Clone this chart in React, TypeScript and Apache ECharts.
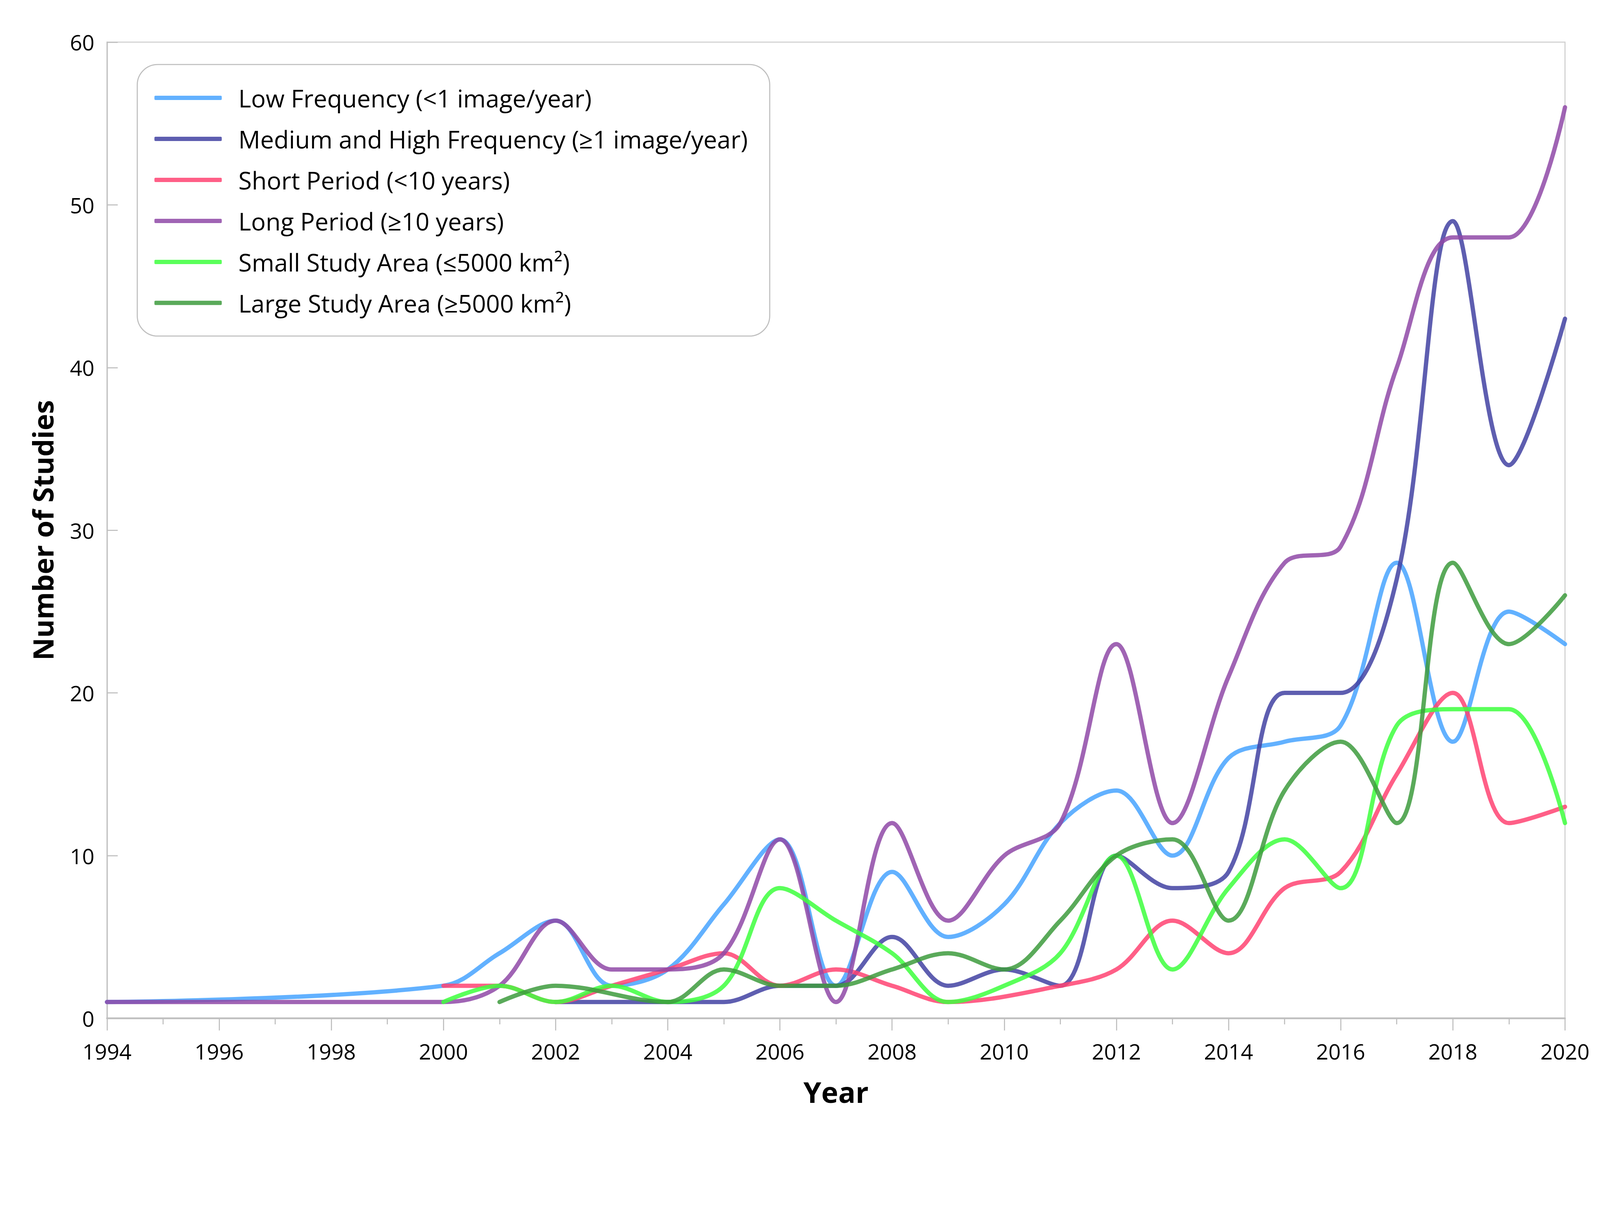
import React, { useEffect, useRef } from "react";
import * as echarts from "echarts";

const years = [
  1994, 1995, 1996, 1997, 1998, 1999, 2000, 2001, 2002, 2003, 2004, 2005, 2006, 2007,
  2008, 2009, 2010, 2011, 2012, 2013, 2014, 2015, 2016, 2017, 2018, 2019, 2020,
];

const lowFrequency = [
  1, null, null, null, null, null, 2, 4, 6, 2, 3, 7, 11, 2, 9, 5, 7, 12, 14, 10, 16, 17, 18, 28, 17, 25, 23,
];
const mediumHighFrequency = [
  null, null, null, null, null, null, null, null, 1, 1, 1, 1, 2, 2, 5, 2, 3, 2, 10, 8, 9, 20, 20, 27, 49, 34, 43,
];
const shortPeriod = [
  null, null, null, null, null, null, 2, 2, 1, 2, 3, 4, 2, 3, 2, 1, null, 2, 3, 6, 4, 8, 9, 15, 20, 12, 13,
];
const longPeriod = [
  1, null, null, null, null, null, 1, 2, 6, 3, 3, 4, 11, 1, 12, 6, 10, 12, 23, 12, 21, 28, 29, 40, 48, 48, 56,
];
const smallStudyArea = [
  null, null, null, null, null, null, 1, 2, 1, 2, 1, 2, 8, 6, 4, 1, 2, 4, 10, 3, 8, 11, 8, 18, 19, 19, 12,
];
const largeStudyArea = [
  null, null, null, null, null, null, null, 1, 2, null, 1, 3, 2, 2, 3, 4, 3, 6, 10, 11, 6, 14, 17, 12, 28, 23, 26,
];

const seriesNames = [
  "Low Frequency (<1 image/year)",
  "Medium and High Frequency (≥1 image/year)",
  "Short Period (<10 years)",
  "Long Period (≥10 years)",
  "Small Study Area (≤5000 km²)",
  "Large Study Area (≥5000 km²)",
];
const seriesValues = [
  lowFrequency,
  mediumHighFrequency,
  shortPeriod,
  longPeriod,
  smallStudyArea,
  largeStudyArea,
];
const seriesColors = ["#47A3FF", "#4242A2", "#FF4372", "#8F49A7", "#3DFF3D", "#3D9B3D"];

const yTicks = [0, 10, 20, 30, 40, 50, 60];

const FONT = "'Open Sans', 'DejaVu Sans', sans-serif";

function toPairs(vals: (number | null)[]) {
  const out: [number, number][] = [];
  vals.forEach((v, i) => {
    if (v !== null && v !== undefined) out.push([years[i], v]);
  });
  return out;
}

// Design is in reference pixels (4466 x 3133 page, 8px body margin).
const REF_W = 4450;
const REF_H = 3117;

export default function App() {
  const ref = useRef<HTMLDivElement>(null);
  const availW = Math.max(100, (typeof window !== "undefined" ? window.innerWidth : 4466) - 16);
  const availH = Math.max(100, (typeof window !== "undefined" ? window.innerHeight : 3133) - 16);
  const k = Math.min(availW / REF_W, availH / REF_H);
  const divW = Math.floor(REF_W * k);
  const divH = Math.floor(REF_H * k);

  useEffect(() => {
    if (!ref.current) return;
    const chart = echarts.init(ref.current, undefined, { renderer: "svg" });
    const s = (v: number) => v * k;

    const series = seriesNames.map((name, i) => ({
      name,
      type: "line",
      data: toPairs(seriesValues[i]),
      smooth: 0.35,
      symbol: "none",
      showSymbol: false,
      itemStyle: { color: seriesColors[i] },
      lineStyle: {
        color: seriesColors[i],
        width: s(12),
        opacity: 0.85,
        cap: "round",
        join: "round",
      },
      z: 3,
    }));

    chart.setOption({
      animation: false,
      backgroundColor: "#ffffff",
      textStyle: { fontFamily: FONT },
      grid: {
        left: s(290),
        right: s(89),
        top: s(109),
        bottom: s(282),
        show: true,
        borderColor: "#D0D0D0",
        borderWidth: s(3),
        backgroundColor: "transparent",
      },
      graphic: [
        {
          type: "rect",
          left: s(373),
          top: s(170),
          shape: { width: s(1766), height: s(758), r: s(57) },
          style: { fill: "#ffffff", stroke: "#BFBFBF", lineWidth: s(3) },
          z: 5,
        },
      ],
      legend: {
        orient: "vertical",
        left: s(417),
        top: s(219),
        z: 10,
        icon: "roundRect",
        itemWidth: s(188),
        itemHeight: s(12),
        itemGap: s(34.5),
        itemStyle: { opacity: 0.85 },
        textStyle: {
          fontFamily: FONT,
          fontSize: s(68),
          color: "#000000",
          lineHeight: s(80),
          padding: [0, 0, 0, s(41)],
        },
        data: seriesNames,
      },
      xAxis: {
        type: "value",
        min: 1994,
        max: 2020,
        interval: 2,
        name: "Year",
        nameLocation: "middle",
        nameGap: s(165),
        nameTextStyle: {
          fontFamily: FONT,
          fontSize: s(80),
          fontWeight: "bold",
          color: "#000000",
        },
        axisLine: { show: true, lineStyle: { color: "#BFBFBF", width: s(5) } },
        axisTick: { show: true, length: s(34), lineStyle: { color: "#BFBFBF", width: s(3) } },
        minorTick: {
          show: true,
          splitNumber: 2,
          length: s(17),
          lineStyle: { color: "#BFBFBF", width: s(3) },
        },
        splitLine: { show: false },
        axisLabel: {
          fontFamily: FONT,
          fontSize: s(60),
          color: "#000000",
          margin: s(62),
          formatter: (v: number) => String(v),
        },
      },
      yAxis: {
        type: "value",
        min: yTicks[0],
        max: yTicks[yTicks.length - 1],
        interval: 10,
        name: "Number of Studies",
        nameLocation: "middle",
        nameGap: s(140),
        nameTextStyle: {
          fontFamily: FONT,
          fontSize: s(78),
          fontWeight: "bold",
          color: "#000000",
        },
        axisLine: { show: true, lineStyle: { color: "#BFBFBF", width: s(3) } },
        axisTick: {
          show: true,
          inside: true,
          length: s(30),
          lineStyle: { color: "#BFBFBF", width: s(3) },
        },
        splitLine: { show: false },
        axisLabel: {
          fontFamily: FONT,
          fontSize: s(60),
          color: "#000000",
          margin: s(35),
        },
      },
      series,
    });

    return () => {
      chart.dispose();
    };
  }, [k]);

  return <div ref={ref} style={{ width: divW, height: divH }} />;
}
